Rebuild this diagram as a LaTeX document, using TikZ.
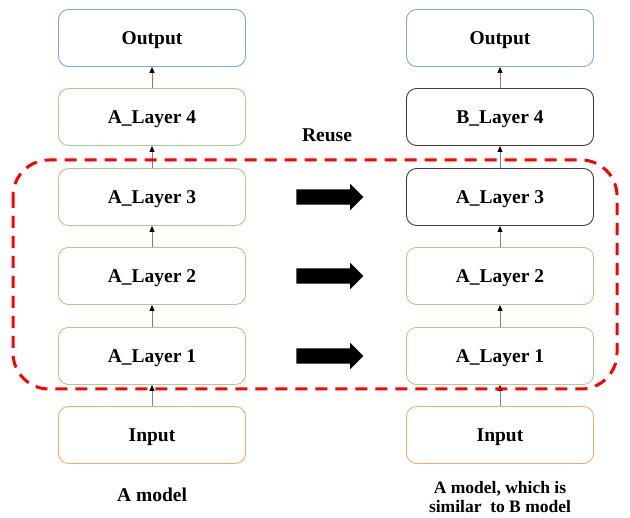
\documentclass[tikz,border=0pt]{standalone}
\usepackage{fontspec}
\setmainfont{Liberation Serif}
\usetikzlibrary{arrows.meta,shapes.arrows}

\definecolor{outblue}{HTML}{7EA6E0}
\definecolor{laygreen}{HTML}{A3D08A}
\definecolor{inorange}{HTML}{F5A970}
\definecolor{newgray}{HTML}{3C3C3C}

\tikzset{
    box/.style={draw, rounded corners=10pt, line width=0.9pt,
        minimum width=187pt, minimum height=57pt, inner sep=0pt,
        text height=18pt, text depth=4pt,
        font=\fontsize{19.5}{22}\selectfont\bfseries},
    outbox/.style={box, draw=outblue},
    laybox/.style={box, draw=laygreen},
    inbox/.style={box, draw=inorange},
    newbox/.style={box, draw=newgray},
    up/.style={draw=gray, line width=0.8pt, -{Triangle[length=6pt,width=5pt,black]}},
    copyarrow/.style={single arrow, fill=black, draw=none,
        minimum height=67pt, minimum width=26pt,
        single arrow head extend=5.5pt, inner xsep=0pt, inner ysep=7.5pt,
        text height=0pt, text depth=0pt},
    reuseframe/.style={draw=red, line width=3pt, dash pattern=on 12pt off 8pt,
        rounded corners=36pt},
    caption/.style={font=\fontsize{19.5}{19}\selectfont\bfseries, align=center}
}

\begin{document}
\begin{tikzpicture}[x=1pt, y=-1pt]
    \useasboundingbox (0,0) rectangle (630,518);

    % left column: A model
    \node[outbox] (outA) at (152,38) {Output};
    \node[laybox] (lay4A) at (152,117) {A\_Layer 4};
    \node[laybox] (lay3A) at (152,197) {A\_Layer 3};
    \node[laybox] (lay2A) at (152,276) {A\_Layer 2};
    \node[laybox] (lay1A) at (152,356) {A\_Layer 1};
    \node[inbox] (inA) at (152,435) {Input};

    % right column: model built on the reused layers
    \node[outbox] (outB) at (500,38) {Output};
    \node[newbox] (lay4B) at (500,117) {B\_Layer 4};
    \node[newbox] (lay3B) at (500,197) {A\_Layer 3};
    \node[laybox] (lay2B) at (500,276) {A\_Layer 2};
    \node[laybox] (lay1B) at (500,356) {A\_Layer 1};
    \node[inbox] (inB) at (500,435) {Input};

    \draw[up] (inA) -- (lay1A);
    \draw[up] (lay1A) -- (lay2A);
    \draw[up] (lay2A) -- (lay3A);
    \draw[up] (lay3A) -- (lay4A);
    \draw[up] (lay4A) -- (outA);

    \draw[up] (inB) -- (lay1B);
    \draw[up] (lay1B) -- (lay2B);
    \draw[up] (lay2B) -- (lay3B);
    \draw[up] (lay3B) -- (lay4B);
    \draw[up] (lay4B) -- (outB);

    % copied layers
    \node[copyarrow] (cp3) at (326,197) {};
    \node[copyarrow] (cp2) at (326,276) {};
    \node[copyarrow] (cp1) at (326,356) {};

    \draw[reuseframe] (13,160) rectangle (617,389);
    \node[caption] (reuse) at (327,135) {Reuse};

    \node[caption] (capA) at (152,495) {A model};
    \node[caption, font=\fontsize{17.5}{19}\selectfont\bfseries] (capB) at (500,497)
        {A model, which is\\similar\ \ to B model};
\end{tikzpicture}
\end{document}
